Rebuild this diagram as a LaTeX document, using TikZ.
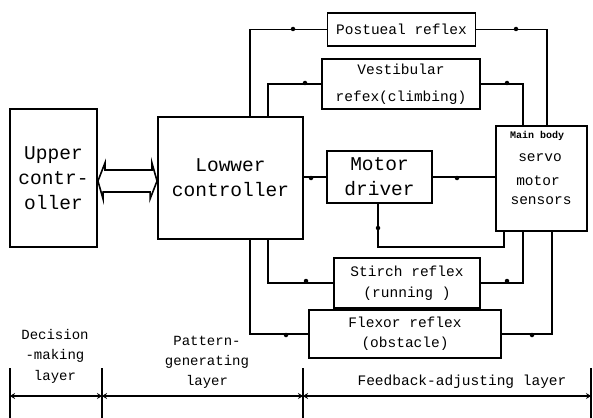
\documentclass[tikz,border=0pt]{standalone}
\usepackage{fontspec}
\setmonofont{Liberation Mono}
\usetikzlibrary{arrows.meta}
\begin{document}
\begin{tikzpicture}[x=1pt,y=-1pt,line width=1.8pt,
  box/.style={draw,line width=1.9pt,inner sep=0pt,align=center},
  big/.style={font=\ttfamily\fontsize{19.5}{25}\selectfont},
  small/.style={font=\ttfamily\fontsize{14.5}{21}\selectfont},
  lbl/.style={inner sep=0pt,align=center},
  dotm/.style={circle,fill,inner sep=0pt,minimum size=4.5pt},
  dim/.style={line width=1.7pt,{Stealth[length=5pt,width=6pt]}-{Stealth[length=5pt,width=6pt]}},
  tick/.style={line width=1.7pt}]
\useasboundingbox (0,0) rectangle (593,417);
% boxes
\node[box,big,minimum width=87,minimum height=138] (up) at (53.5,178) {Upper\\contr-\\oller};
\node[box,big,minimum width=145,minimum height=122] (low) at (230.5,178) {Lowwer\\controller};
\node[box,small,minimum width=148,minimum height=33] (post) at (401.5,29.5) {Postueal reflex};
\node[box,font=\ttfamily\fontsize{14.5}{27}\selectfont,minimum width=158,minimum height=50] (vest) at (401,84) {Vestibular\\refex(climbing)};
\node[box,big,minimum width=105,minimum height=52] (md) at (379.5,177) {Motor\\driver};
\node[box,minimum width=91,minimum height=105] (mb) at (541.5,178.5) {};
\node[lbl,font=\ttfamily\bfseries\fontsize{10}{12}\selectfont] (mb1) at (537,136) {Main body};
\node[lbl,small] (mb2) at (540,158) {servo};
\node[lbl,small] (mb3) at (538,181) {motor};
\node[lbl,small] (mb4) at (541,201) {sensors};
\node[box,small,minimum width=146,minimum height=50] (str) at (407,283) {Stirch reflex\\(running )};
\node[box,font=\ttfamily\fontsize{14.5}{20}\selectfont,minimum width=192,minimum height=48] (flex) at (405,334) {Flexor reflex\\(obstacle)};
% column coordinates
\coordinate (ca) at (250,0);
\coordinate (cb) at (268,0);
\coordinate (cc) at (378,0);
\coordinate (cd) at (504,0);
\coordinate (ce) at (523,0);
\coordinate (cf) at (547,0);
\coordinate (cg) at (552,0);
\coordinate (loopy) at (0,247);
% double arrow between controllers
\draw[line width=1.6pt,fill=white] ([yshift=-3pt]up.east) -- ++(7,-18) -- ++(0,7) -- ++(47,0) -- ++(0,-7)
  -- ([yshift=-3pt]low.west) -- ++(-7,18) -- ++(0,-7) -- ++(-47,0) -- ++(0,7) -- cycle;
% connectors
\draw (low.north -| ca) |- (post.west);
\draw (post.east) -| (mb.north -| cf);
\draw (low.north -| cb) |- (vest.west);
\draw (vest.east) -| (mb.north -| ce);
\draw (md.west) -- (md.west -| low.east);
\draw (md.east) -- (md.east -| mb.west);
\draw (md.south -| cc) -- (cc |- loopy) -| (mb.south -| cd);
\draw (low.south -| cb) |- (str.west);
\draw (str.east) -| (mb.south -| ce);
\draw (low.south -| ca) |- (flex.west);
\draw (flex.east) -| (mb.south -| cg);
% direction marks
\node[dotm] at (293,29) {};
\node[dotm] at (516,29) {};
\node[dotm] at (305,83) {};
\node[dotm] at (507,83) {};
\node[dotm] at (311,178) {};
\node[dotm] at (457,178) {};
\node[dotm] at (378,228) {};
\node[dotm] at (306,281) {};
\node[dotm] at (507,281) {};
\node[dotm] at (286,335) {};
\node[dotm] at (532,335) {};
% layer dimension line
\coordinate (t1) at (10,396);
\coordinate (t2) at (102,396);
\coordinate (t3) at (303,396);
\coordinate (t4) at (591,396);
\foreach \t in {t1,t2,t3,t4} \draw[tick] ([yshift=28pt]\t) -- ([yshift=-22pt]\t);
\draw[dim] (t1) -- (t2);
\draw[dim] (t2) -- (t3);
\draw[dim] (t3) -- (t4);
\node[lbl,font=\ttfamily\fontsize{14}{20.5}\selectfont] (l1) at (55,356) {Decision\\-making\\layer};
\node[lbl,font=\ttfamily\fontsize{14}{20}\selectfont] (l2) at (207,362) {Pattern-\\generating\\layer};
\node[lbl,font=\ttfamily\fontsize{14.5}{20}\selectfont] (l3) at (462,382) {Feedback-adjusting layer};
\end{tikzpicture}
\end{document}
